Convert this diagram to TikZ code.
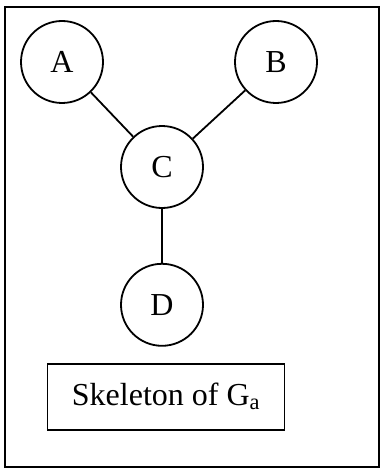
\documentclass[tikz,border=0pt]{standalone}
\usepackage{fontspec}
\setmainfont{Liberation Serif}
\usetikzlibrary{positioning}

\begin{document}
\begin{tikzpicture}[x=1pt, y=-1pt, node distance=54pt, font=\fontsize{32}{38}\selectfont,
	c/.style={circle, draw, line width=1.8pt, minimum size=82pt, inner sep=0pt},
	lbl/.style={rectangle, draw, line width=1.8pt, minimum width=237pt, minimum height=66pt}]
	\useasboundingbox (0,0) rectangle (380,468);
	\draw[line width=1.5pt] (5,7) rectangle (379,467);

	\node[c] (a) at (62,62) {A};
	\node[c] (b) at (276,62) {B};
	\node[c] (cc) at (162,167) {C};
	\node[c, below=of cc] (d) {D};
	\node[lbl, below=16pt of d, xshift=4pt] (sk) {Skeleton of G\textsubscript{a}};

	\path[line width=1.8pt] (a) edge (cc);
	\path[line width=1.8pt] (b) edge (cc);
	\path[line width=1.8pt] (cc) edge (d);
\end{tikzpicture}
\end{document}
